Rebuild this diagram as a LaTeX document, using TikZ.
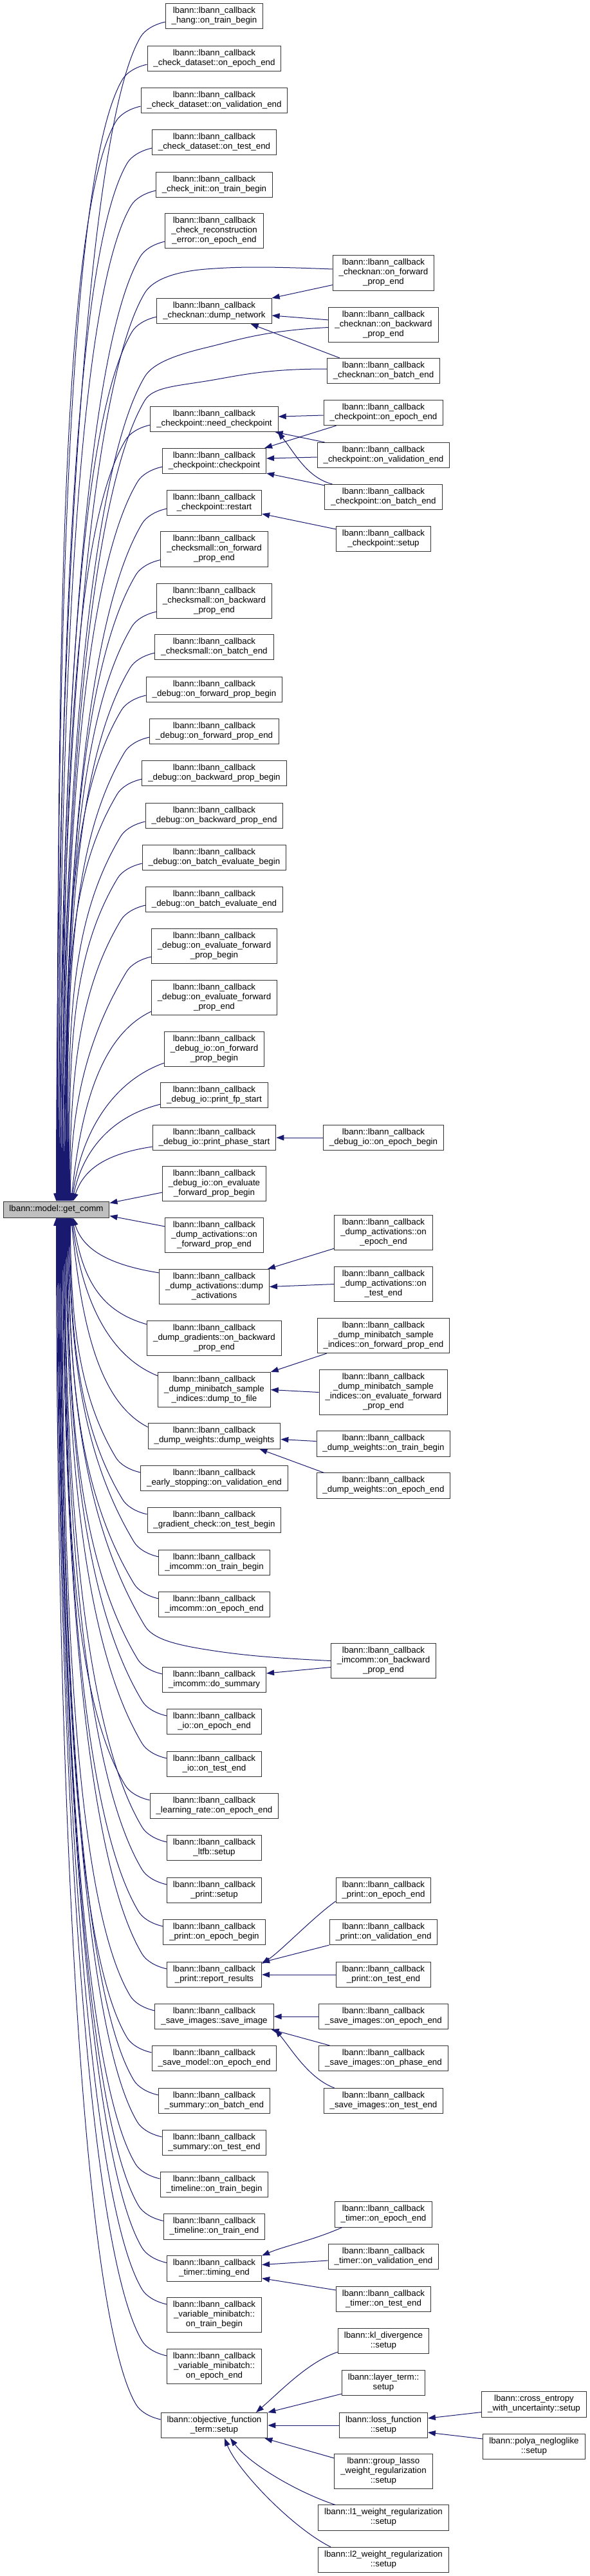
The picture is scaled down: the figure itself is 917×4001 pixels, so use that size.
\documentclass[tikz,border=0pt]{standalone}
\usepackage{fontspec}
\setmainfont{Liberation Sans}
\usetikzlibrary{arrows.meta,calc}
\definecolor{edgeblue}{HTML}{191970}
\definecolor{gcfill}{HTML}{BFBFBF}
\newcommand{\lbc}{lbann::lbann\_callback}
\tikzset{
  fn/.style={draw=black!80, line width=0.75pt, fill=white, align=center,
    font=\fontsize{10}{11.25}\selectfont, inner xsep=7.1pt, inner ysep=3.75pt,
    execute at begin node=\strut, execute at end node=\strut},
  callarr/.style={draw=edgeblue, line width=0.75pt, -{Triangle[length=9pt,width=6.5pt]}},
}
\begin{document}
\begin{tikzpicture}[x=0.75pt,y=-0.75pt]
\fill[white] (0,0) rectangle (917,4001);
\useasboundingbox (0,0) rectangle (917,4001);

% ---- root ----
\node[fn, fill=gcfill] (gc) at (87.5,1878.5) {lbann::model::get\_comm};

% ---- column 2 ----
\node[fn] (hang) at (333,25) {\lbc\\\_hang::on\_train\_begin};
\node[fn] (cdsEpoch) at (333,91) {\lbc\\\_check\_dataset::on\_epoch\_end};
\node[fn] (cdsVal) at (333,156) {\lbc\\\_check\_dataset::on\_validation\_end};
\node[fn] (cdsTest) at (333,221) {\lbc\\\_check\_dataset::on\_test\_end};
\node[fn] (checkInit) at (333,287) {\lbc\\\_check\_init::on\_train\_begin};
\node[fn] (checkRecon) at (333,358.5) {\lbc\\\_check\_reconstruction\\\_error::on\_epoch\_end};
\node[fn] (dumpNetwork) at (333,483) {\lbc\\\_checknan::dump\_network};
\node[fn] (needCheckpoint) at (333,651) {\lbc\\\_checkpoint::need\_checkpoint};
\node[fn] (checkpoint) at (333,716) {\lbc\\\_checkpoint::checkpoint};
\node[fn] (restart) at (333,781) {\lbc\\\_checkpoint::restart};
\node[fn] (csFpe) at (333,853) {\lbc\\\_checksmall::on\_forward\\\_prop\_end};
\node[fn] (csBpe) at (333,933.5) {\lbc\\\_checksmall::on\_backward\\\_prop\_end};
\node[fn] (csBatch) at (333,1005) {\lbc\\\_checksmall::on\_batch\_end};
\node[fn] (dbgFpb) at (333,1071) {\lbc\\\_debug::on\_forward\_prop\_begin};
\node[fn] (dbgFpe) at (333,1136) {\lbc\\\_debug::on\_forward\_prop\_end};
\node[fn] (dbgBpb) at (333,1201) {\lbc\\\_debug::on\_backward\_prop\_begin};
\node[fn] (dbgBpe) at (333,1267) {\lbc\\\_debug::on\_backward\_prop\_end};
\node[fn] (dbgBeb) at (333,1332) {\lbc\\\_debug::on\_batch\_evaluate\_begin};
\node[fn] (dbgBee) at (333,1397) {\lbc\\\_debug::on\_batch\_evaluate\_end};
\node[fn] (dbgEfpb) at (333,1469.5) {\lbc\\\_debug::on\_evaluate\_forward\\\_prop\_begin};
\node[fn] (dbgEfpe) at (333,1549.5) {\lbc\\\_debug::on\_evaluate\_forward\\\_prop\_end};
\node[fn] (dioFpb) at (333,1629.5) {\lbc\\\_debug\_io::on\_forward\\\_prop\_begin};
\node[fn] (dioFpStart) at (333,1701) {\lbc\\\_debug\_io::print\_fp\_start};
\node[fn] (dioPhase) at (333,1767) {\lbc\\\_debug\_io::print\_phase\_start};
\node[fn] (dioEfpb) at (333,1838.5) {\lbc\\\_debug\_io::on\_evaluate\\\_forward\_prop\_begin};
\node[fn] (daFpe) at (333,1918.5) {\lbc\\\_dump\_activations::on\\\_forward\_prop\_end};
\node[fn] (daDump) at (333,1998.5) {\lbc\\\_dump\_activations::dump\\\_activations};
\node[fn] (dgBpe) at (333,2078.5) {\lbc\\\_dump\_gradients::on\_backward\\\_prop\_end};
\node[fn] (dmsiDump) at (333,2158.5) {\lbc\\\_dump\_minibatch\_sample\\\_indices::dump\_to\_file};
\node[fn] (dwDump) at (333,2230.5) {\lbc\\\_dump\_weights::dump\_weights};
\node[fn] (esVal) at (333,2296) {\lbc\\\_early\_stopping::on\_validation\_end};
\node[fn] (gcTest) at (333,2361) {\lbc\\\_gradient\_check::on\_test\_begin};
\node[fn] (imTrain) at (333,2427) {\lbc\\\_imcomm::on\_train\_begin};
\node[fn] (imEpoch) at (333,2492) {\lbc\\\_imcomm::on\_epoch\_end};
\node[fn] (imSummary) at (333,2609) {\lbc\\\_imcomm::do\_summary};
\node[fn] (ioEpoch) at (333,2674) {\lbc\\\_io::on\_epoch\_end};
\node[fn] (ioTest) at (333,2740) {\lbc\\\_io::on\_test\_end};
\node[fn] (lrEpoch) at (333,2805) {\lbc\\\_learning\_rate::on\_epoch\_end};
\node[fn] (ltfb) at (333,2870) {\lbc\\\_ltfb::setup};
\node[fn] (printSetup) at (333,2936) {\lbc\\\_print::setup};
\node[fn] (printEpochBegin) at (333,3001) {\lbc\\\_print::on\_epoch\_begin};
\node[fn] (printReport) at (333,3067) {\lbc\\\_print::report\_results};
\node[fn] (saveImage) at (333,3132) {\lbc\\\_save\_images::save\_image};
\node[fn] (saveModel) at (333,3197) {\lbc\\\_save\_model::on\_epoch\_end};
\node[fn] (sumBatch) at (333,3263) {\lbc\\\_summary::on\_batch\_end};
\node[fn] (sumTest) at (333,3328) {\lbc\\\_summary::on\_test\_end};
\node[fn] (tlBegin) at (333,3393) {\lbc\\\_timeline::on\_train\_begin};
\node[fn] (tlEnd) at (333,3458.5) {\lbc\\\_timeline::on\_train\_end};
\node[fn] (timingEnd) at (333,3523.5) {\lbc\\\_timer::timing\_end};
\node[fn] (vmTrain) at (333,3595.5) {\lbc\\\_variable\_minibatch::\\on\_train\_begin};
\node[fn] (vmEpoch) at (333,3675.5) {\lbc\\\_variable\_minibatch::\\on\_epoch\_end};
\node[fn] (objSetup) at (333,3767) {lbann::objective\_function\\\_term::setup};

% ---- column 3 ----
\node[fn] (cnFpe) at (596,424) {\lbc\\\_checknan::on\_forward\\\_prop\_end};
\node[fn] (cnBpe) at (596,504.5) {\lbc\\\_checknan::on\_backward\\\_prop\_end};
\node[fn] (cnBatch) at (596,576) {\lbc\\\_checknan::on\_batch\_end};
\node[fn] (cpEpoch) at (596,641) {\lbc\\\_checkpoint::on\_epoch\_end};
\node[fn] (cpVal) at (596,707) {\lbc\\\_checkpoint::on\_validation\_end};
\node[fn] (cpBatch) at (596,772) {\lbc\\\_checkpoint::on\_batch\_end};
\node[fn] (cpSetup) at (596,837) {\lbc\\\_checkpoint::setup};
\node[fn] (dioEpochBegin) at (596,1767) {\lbc\\\_debug\_io::on\_epoch\_begin};
\node[fn] (daEpoch) at (596,1914.5) {\lbc\\\_dump\_activations::on\\\_epoch\_end};
\node[fn] (daTest) at (596,1994.5) {\lbc\\\_dump\_activations::on\\\_test\_end};
\node[fn] (dmsiFpe) at (596,2074.5) {\lbc\\\_dump\_minibatch\_sample\\\_indices::on\_forward\_prop\_end};
\node[fn] (dmsiEfpe) at (596,2162.5) {\lbc\\\_dump\_minibatch\_sample\\\_indices::on\_evaluate\_forward\\\_prop\_end};
\node[fn] (dwTrain) at (596,2242.5) {\lbc\\\_dump\_weights::on\_train\_begin};
\node[fn] (dwEpoch) at (596,2307.5) {\lbc\\\_dump\_weights::on\_epoch\_end};
\node[fn] (imBpe) at (596,2579.5) {\lbc\\\_imcomm::on\_backward\\\_prop\_end};
\node[fn] (printEpochEnd) at (596,2936) {\lbc\\\_print::on\_epoch\_end};
\node[fn] (printVal) at (596,3001) {\lbc\\\_print::on\_validation\_end};
\node[fn] (printTest) at (596,3067) {\lbc\\\_print::on\_test\_end};
\node[fn] (siEpoch) at (596,3132) {\lbc\\\_save\_images::on\_epoch\_end};
\node[fn] (siPhase) at (596,3197) {\lbc\\\_save\_images::on\_phase\_end};
\node[fn] (siTest) at (596,3263) {\lbc\\\_save\_images::on\_test\_end};
\node[fn] (timerEpoch) at (596,3439.5) {\lbc\\\_timer::on\_epoch\_end};
\node[fn] (timerVal) at (596,3505) {\lbc\\\_timer::on\_validation\_end};
\node[fn] (timerTest) at (596,3571) {\lbc\\\_timer::on\_test\_end};
\node[fn] (kl) at (596,3636) {lbann::kl\_divergence\\::setup};
\node[fn] (layerTerm) at (596,3701) {lbann::layer\_term::\\setup};
\node[fn] (loss) at (596,3767) {lbann::loss\_function\\::setup};
\node[fn] (groupLasso) at (596,3838.5) {lbann::group\_lasso\\\_weight\_regularization\\::setup};
\node[fn] (l1) at (596,3910.5) {lbann::l1\_weight\_regularization\\::setup};
\node[fn] (l2) at (596,3976) {lbann::l2\_weight\_regularization\\::setup};

% ---- column 4 ----
\node[fn] (ce) at (830,3734.5) {lbann::cross\_entropy\\\_with\_uncertainty::setup};
\node[fn] (polya) at (830,3800) {lbann::polya\_negloglike\\::setup};

% ---- far edges into get_comm from above ----
\foreach \n/\i/\cy in {hang/0/25, cdsEpoch/1/91, cdsVal/2/156, cdsTest/3/221, checkInit/4/287,
  checkRecon/5/358.5, dumpNetwork/7/483, needCheckpoint/10/651, checkpoint/11/716, restart/12/781,
  csFpe/13/853, csBpe/14/933.5, csBatch/15/1005, dbgFpb/16/1071, dbgFpe/17/1136, dbgBpb/18/1201,
  dbgBpe/19/1267, dbgBeb/20/1332, dbgBee/21/1397, dbgEfpb/22/1469.5}{
  \pgfmathsetmacro\dA{1831-\cy}
  \pgfmathsetmacro\sA{min(1,\dA/600)}
  \pgfmathsetmacro\cxA{-90*\sA}
  \pgfmathsetmacro\cyA{150*\sA}
  \pgfmathsetmacro\byA{-min(800,0.45*\dA)}
  \pgfmathsetmacro\off{83+\i}
  \draw[callarr] ($(\n.south west)+(0,-11)$) .. controls +(-18,4) and +(6,-10) .. ($(\n.south west)+(-38,12)$)
    .. controls +(\cxA,\cyA) and +(0,\byA) .. ($(gc.north west)+(\off,0)$);
}
% ---- near edges into get_comm from above ----
\foreach \n/\i/\cy in {dbgEfpe/23/1549.5, dioFpb/24/1629.5, dioFpStart/25/1701, dioPhase/26/1767}{
  \pgfmathsetmacro\dA{1866-\cy}
  \pgfmathsetmacro\ayA{0.12*\dA}
  \pgfmathsetmacro\byA{-0.45*\dA}
  \pgfmathsetmacro\off{83+\i}
  \draw[callarr] ($(\n.south west)+(0,-6)$) .. controls +(-80,\ayA) and +(15,\byA) .. ($(gc.north west)+(\off,0)$);
}
% ---- near edges into get_comm from below ----
\foreach \n/\i/\cy in {daDump/0/1998.5, dgBpe/1/2078.5, dmsiDump/2/2158.5, dwDump/3/2230.5}{
  \pgfmathsetmacro\dA{\cy-1891}
  \pgfmathsetmacro\ayA{-0.12*\dA}
  \pgfmathsetmacro\byA{0.45*\dA}
  \pgfmathsetmacro\off{109-\i}
  \draw[callarr] ($(\n.north west)+(0,6)$) .. controls +(-80,\ayA) and +(15,\byA) .. ($(gc.south west)+(\off,0)$);
}
% ---- far edges into get_comm from below ----
\foreach \n/\i/\cy in {esVal/4/2296, gcTest/5/2361, imTrain/6/2427, imEpoch/7/2492, imSummary/9/2609,
  ioEpoch/10/2674, ioTest/11/2740, lrEpoch/12/2805, ltfb/13/2870, printSetup/14/2936,
  printEpochBegin/15/3001, printReport/16/3067, saveImage/17/3132, saveModel/18/3197,
  sumBatch/19/3263, sumTest/20/3328, tlBegin/21/3393, tlEnd/22/3458.5, timingEnd/23/3523.5,
  vmTrain/24/3595.5, vmEpoch/25/3675.5, objSetup/26/3767}{
  \pgfmathsetmacro\dA{\cy-1926}
  \pgfmathsetmacro\sA{min(1,\dA/600)}
  \pgfmathsetmacro\cxA{-90*\sA}
  \pgfmathsetmacro\cyA{-150*\sA}
  \pgfmathsetmacro\byA{min(800,0.45*\dA)}
  \pgfmathsetmacro\off{109-\i}
  \draw[callarr] ($(\n.north west)+(0,11)$) .. controls +(-18,-4) and +(6,10) .. ($(\n.north west)+(-38,-12)$)
    .. controls +(\cxA,\cyA) and +(0,\byA) .. ($(gc.south west)+(\off,0)$);
}
\draw[callarr] ($(dioEfpb.south west)+(0,-14)$) -- ($(gc.north east)+(0,3)$);
\draw[callarr] ($(daFpe.north west)+(0,14)$) -- ($(gc.south east)+(0,-3)$);

% ---- long edges from column 3 to get_comm ----
\coordinate (vA1) at (320,418);
\coordinate (vA2) at (225,455);
\coordinate (vB1) at (320,540);
\coordinate (vB2) at (225,585);
\coordinate (vC1) at (320,592);
\coordinate (vC2) at (225,622);
\coordinate (vD1) at (320,2562);
\coordinate (vD2) at (225,2525);
\draw[callarr] ($(cnFpe.west)+(0,-6)$) .. controls +(-100,-4) and +(50,-4) .. (vA1)
  .. controls +(-50,4) and +(12,-20) .. (vA2)
  .. controls +(-90,150) and +(0,-635) .. ($(gc.north west)+(89,0)$);
\draw[callarr] ($(cnBpe.west)+(0,4)$) .. controls +(-100,5) and +(50,-12) .. (vB1)
  .. controls +(-50,12) and +(12,-20) .. (vB2)
  .. controls +(-90,150) and +(0,-576) .. ($(gc.north west)+(91,0)$);
\draw[callarr] ($(cnBatch.west)+(0,-3)$) .. controls +(-100,0) and +(50,-8) .. (vC1)
  .. controls +(-50,8) and +(12,-20) .. (vC2)
  .. controls +(-90,150) and +(0,-560) .. ($(gc.north west)+(92,0)$);
\draw[callarr] (imBpe.west) .. controls +(-100,-5) and +(50,8) .. (vD1)
  .. controls +(-50,-8) and +(12,20) .. (vD2)
  .. controls +(-90,-150) and +(0,285) .. ($(gc.south west)+(101,0)$);

% ---- column 3 -> column 2 ----
\draw[callarr] ($(cnFpe.south west)+(0,-9)$) -- (dumpNetwork.north east);
\draw[callarr] ($(cnBpe.north west)+(0,20)$) -- ($(dumpNetwork.east)+(0,7)$);
\draw[callarr] ($(cnBatch.north west)+(20,0)$) -- ($(dumpNetwork.south east)+(-33,0)$);
\draw[callarr] ($(cpEpoch.west)+(0,4)$) -- ($(needCheckpoint.east)+(0,-4)$);
\draw[callarr] ($(cpEpoch.south west)+(20,0)$) -- ($(checkpoint.north east)+(-3,0)$);
\draw[callarr] ($(cpVal.north west)+(12,0)$) -- ($(needCheckpoint.south east)+(-5,0)$);
\draw[callarr] ($(cpVal.west)+(0,3)$) -- ($(checkpoint.east)+(0,-4)$);
\draw[callarr] ($(cpBatch.north west)+(12,0)$) .. controls +(-40,-10) and +(25,30) .. ($(needCheckpoint.south east)+(-1,0)$);
\draw[callarr] ($(cpBatch.north west)+(0,2)$) -- ($(checkpoint.south east)+(0,-1)$);
\draw[callarr] ($(cpSetup.north west)+(0,5)$) -- ($(restart.south east)+(0,-3)$);
\draw[callarr] (dioEpochBegin.west) -- (dioPhase.east);
\draw[callarr] ($(daEpoch.south west)+(0,-3)$) -- ($(daDump.north east)+(-3,0)$);
\draw[callarr] (daTest.west) -- (daDump.east);
\draw[callarr] ($(dmsiFpe.south west)+(15,0)$) -- (dmsiDump.north east);
\draw[callarr] (dmsiEfpe.west) -- (dmsiDump.east);
\draw[callarr] ($(dwTrain.west)+(0,-4)$) -- ($(dwDump.east)+(0,5)$);
\draw[callarr] ($(dwEpoch.north west)+(12,0)$) -- ($(dwDump.south east)+(-33,0)$);
\draw[callarr] ($(imBpe.west)+(0,10)$) -- ($(imSummary.east)+(0,-10)$);
\draw[callarr] ($(printEpochEnd.south west)+(0,-3)$) .. controls +(-35,25) and +(30,-20) .. ($(printReport.north east)+(0,3)$);
\draw[callarr] (printVal.south west) -- ($(printReport.north east)+(0,1)$);
\draw[callarr] (printTest.west) -- (printReport.east);
\draw[callarr] (siEpoch.west) -- (saveImage.east);
\draw[callarr] ($(siPhase.north west)+(17,0)$) -- ($(saveImage.south east)+(-4,0)$);
\draw[callarr] ($(siTest.north west)+(17,0)$) .. controls +(-40,-15) and +(25,30) .. ($(saveImage.south east)+(2,0)$);
\draw[callarr] ($(timerEpoch.south west)+(12,0)$) .. controls +(-45,20) and +(35,-15) .. (timingEnd.north east);
\draw[callarr] ($(timerVal.west)+(0,6)$) -- ($(timingEnd.east)+(0,-6)$);
\draw[callarr] ($(timerTest.north west)+(0,6)$) -- ($(timingEnd.south east)+(0,-5)$);
\draw[callarr] ($(kl.south west)+(0,-3)$) .. controls +(-45,15) and +(40,-35) .. ($(objSetup.north)+(65,0)$);
\draw[callarr] ($(layerTerm.south west)+(0,-3)$) -- (objSetup.north east);
\draw[callarr] (loss.west) -- (objSetup.east);
\draw[callarr] ($(groupLasso.north west)+(0,7)$) -- ($(objSetup.south east)+(-5,0)$);
\draw[callarr] ($(l1.north west)+(27,0)$) .. controls +(-60,-20) and +(30,40) .. ($(objSetup.south)+(25,0)$);
\draw[callarr] ($(l2.north west)+(20,0)$) .. controls +(-60,-30) and +(20,50) .. ($(objSetup.south)+(16,0)$);
\draw[callarr] ($(ce.west)+(0,12)$) -- ($(loss.east)+(0,-11)$);
\draw[callarr] ($(polya.west)+(0,-12)$) -- ($(loss.east)+(0,11)$);
\end{tikzpicture}
\end{document}
